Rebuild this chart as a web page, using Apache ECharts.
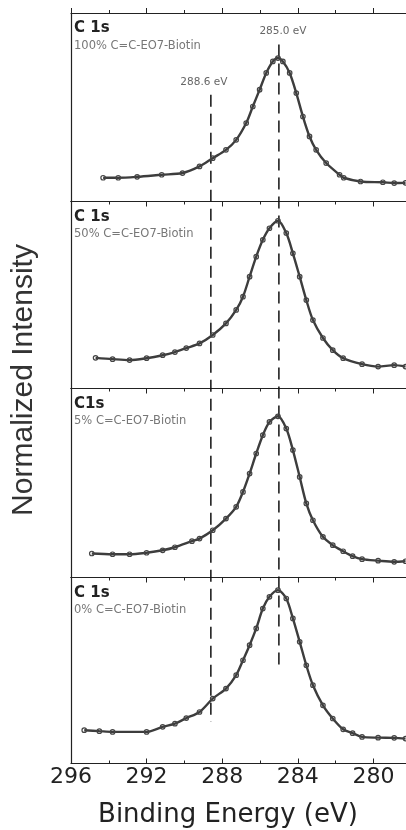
<!DOCTYPE html>
<html><head><meta charset="utf-8">
<script src="https://cdn.jsdelivr.net/npm/echarts@6/dist/echarts.min.js"></script>
<style>html,body{margin:0;padding:0;background:#fff}#c{width:406px;height:830px}</style>
</head><body><div id="c"></div>
<script>
const titles = ['C 1s', 'C 1s', 'C1s', 'C 1s'];
const subtitles = ['100% C=C-EO7-Biotin', '50% C=C-EO7-Biotin', '5% C=C-EO7-Biotin', '0% C=C-EO7-Biotin'];
const xTicks = [296, 292, 288, 284, 280];
const peakLines = [288.6, 285.0];
const peakLabels = ['288.6 eV', '285.0 eV'];

const energy1 = [294.3,293.5,292.5,291.2,290.1,289.2,288.5,287.8,287.26,286.73,286.38,286.02,285.67,285.32,285.05,284.79,284.43,284.08,283.73,283.38,283.03,282.5,281.79,281.57,280.68,279.5,278.9,278.3];
const value1 = [0.126,0.126,0.131,0.142,0.151,0.186,0.230,0.274,0.327,0.416,0.504,0.593,0.682,0.743,0.761,0.743,0.682,0.575,0.451,0.345,0.274,0.204,0.142,0.126,0.106,0.102,0.098,0.099];

const energy2 = [294.7,293.8,292.9,292.0,291.15,290.5,289.9,289.2,288.5,287.8,287.26,286.9,286.55,286.2,285.85,285.5,285.05,284.61,284.26,283.9,283.55,283.2,282.67,282.15,281.6,280.6,279.75,278.9,278.3];
const value2 = [0.164,0.157,0.152,0.162,0.178,0.195,0.216,0.241,0.286,0.348,0.420,0.491,0.598,0.705,0.795,0.857,0.897,0.831,0.723,0.598,0.473,0.366,0.270,0.205,0.162,0.130,0.117,0.125,0.117];

const energy3 = [294.9,293.8,292.9,292.0,291.15,290.5,289.6,289.2,288.5,287.8,287.26,286.9,286.55,286.2,285.85,285.5,285.05,284.61,284.26,283.9,283.55,283.2,282.67,282.15,281.6,281.1,280.6,279.75,278.9,278.3];
const value3 = [0.127,0.123,0.123,0.131,0.144,0.160,0.192,0.206,0.250,0.312,0.374,0.453,0.550,0.656,0.753,0.823,0.853,0.788,0.674,0.532,0.392,0.303,0.215,0.171,0.139,0.113,0.097,0.089,0.083,0.086];

const energy4 = [295.3,294.5,293.8,292.0,291.15,290.5,289.9,289.2,288.5,287.8,287.26,286.9,286.55,286.2,285.85,285.5,285.05,284.61,284.26,283.9,283.55,283.2,282.67,282.15,281.6,281.1,280.6,279.75,278.9,278.3];
const value4 = [0.179,0.174,0.170,0.170,0.197,0.214,0.244,0.277,0.349,0.403,0.475,0.555,0.636,0.726,0.833,0.896,0.932,0.887,0.780,0.654,0.528,0.421,0.313,0.242,0.184,0.163,0.143,0.139,0.138,0.134];

// dashed reference lines: [top, bottom] in stacked-overlay units (0..1 over all four panels)
const dash288 = [0.891, 0.055];
const dash285 = [0.958, 0.127];

const energies = [energy1, energy2, energy3, energy4];
const values = [value1, value2, value3, value4];

const panelTop = [13, 201.5, 388.5, 577.5];
const panelH = [188.5, 187, 189, 186];
const XMIN = 276, XMAX = 296;
const LEFT = 71, RIGHT = -43;

const grids = [], xAxes = [], yAxes = [], series = [], graphics = [];
for (let i = 0; i < 4; i++) {
  grids.push({left: LEFT, right: RIGHT, top: panelTop[i], height: panelH[i], outerBoundsMode: 'none', containLabel: false});
  const last = i === 3;
  xAxes.push({
    type: 'value', gridIndex: i, position: 'bottom', inverse: true, min: XMIN, max: XMAX, interval: 4,
    axisLine: {show: true, onZero: false, lineStyle: {color: '#222', width: 1.2}},
    axisTick: {show: last, inside: true, length: 5, lineStyle: {color: '#222'}},
    minorTick: {show: last, splitNumber: 2, length: 3, lineStyle: {color: '#222'}},
    axisLabel: {show: last, margin: 3, fontFamily: 'DejaVu Sans', fontSize: 22, color: '#222',
      showMinLabel: false, formatter: v => xTicks.indexOf(v) >= 0 ? String(v) : ''},
    splitLine: {show: false}
  });
  xAxes.push({
    type: 'value', gridIndex: i, position: 'top', inverse: true, min: XMIN, max: XMAX, interval: 4,
    axisLine: {show: true, onZero: false, lineStyle: {color: '#222', width: 1.2}},
    axisTick: {show: true, inside: i !== 0, length: 5, lineStyle: {color: '#222'}},
    minorTick: {show: true, splitNumber: 2, length: 3, lineStyle: {color: '#222'}},
    axisLabel: {show: false}, splitLine: {show: false}
  });
  yAxes.push({
    type: 'value', gridIndex: i, min: 0, max: 1,
    axisLine: {show: true, onZero: false, lineStyle: {color: '#222', width: 1.2}},
    axisTick: {show: false}, axisLabel: {show: false}, splitLine: {show: false}
  });
  series.push({
    type: 'line', xAxisIndex: 2 * i, yAxisIndex: i, smooth: 0.3,
    data: energies[i].map((e, k) => [e, values[i][k]]),
    showSymbol: true, symbol: 'circle', symbolSize: 4.5,
    itemStyle: {color: 'rgba(255,255,255,0)', borderColor: '#444', borderWidth: 1.2},
    lineStyle: {color: '#3d3d3d', width: 2.4},
    z: 3
  });
  graphics.push({type: 'text', left: 74, top: panelTop[i] + 8,
    style: {text: titles[i], font: 'bold 15px "DejaVu Sans"', fill: '#222'}});
  graphics.push({type: 'text', left: 74, top: panelTop[i] + 27,
    style: {text: subtitles[i], font: '11.5px "DejaVu Sans"', fill: '#777'}});
}
grids.push({left: LEFT, right: RIGHT, top: 13, bottom: 830 - 763.3, outerBoundsMode: 'none', containLabel: false});
xAxes.push({type: 'value', gridIndex: 4, inverse: true, min: XMIN, max: XMAX, show: false});
yAxes.push({type: 'value', gridIndex: 4, min: 0, max: 1, show: false});
const dashSets = [dash288, dash285];
const labelOffsets = [[-7, 0], [4, 0]];
for (let j = 0; j < 2; j++) {
  series.push({
    type: 'line', xAxisIndex: 8, yAxisIndex: 4, symbol: 'circle', symbolSize: 1, showSymbol: true,
    itemStyle: {color: 'rgba(0,0,0,0)'},
    data: [
      {value: [peakLines[j], dashSets[j][0]], label: {show: true, position: 'top', distance: 7, offset: labelOffsets[j],
        formatter: peakLabels[j], fontFamily: 'DejaVu Sans', fontSize: 10.5, color: '#666'}},
      {value: [peakLines[j], dashSets[j][1]]}
    ],
    lineStyle: {color: '#111', width: 1.5, type: [12, 7]},
    z: 2
  });
}
graphics.push({type: 'text', x: 24, y: 380, rotation: Math.PI / 2,
  style: {text: 'Normalized Intensity', font: '30px "Liberation Sans"', fill: '#333', textAlign: 'center', textVerticalAlign: 'middle'}});
graphics.push({type: 'text', x: 228, y: 815,
  style: {text: 'Binding Energy (eV)', font: '26px "DejaVu Sans"', fill: '#222', textAlign: 'center', textVerticalAlign: 'middle'}});

const chart = echarts.init(document.getElementById('c'), null, {renderer: 'canvas'});
chart.setOption({
  animation: false,
  grid: grids, xAxis: xAxes, yAxis: yAxes, series: series, graphic: graphics
});
</script></body></html>
